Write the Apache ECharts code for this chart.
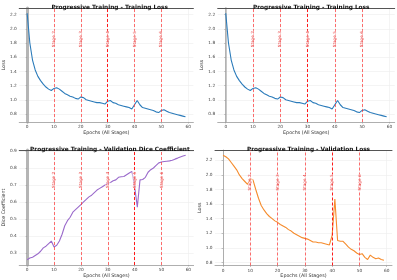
<!DOCTYPE html>
<html><head><meta charset="utf-8">
<script src="https://cdn.jsdelivr.net/npm/echarts@6/dist/echarts.min.js"></script>
<style>html,body{margin:0;padding:0;background:#fff}#c{width:397px;height:280px}</style>
</head><body><div id="c"></div>
<script>
// ---- data ----
const trainLoss = [2.22,1.80,1.56,1.42,1.33,1.27,1.22,1.18,1.15,1.13,
  1.16,1.17,1.15,1.12,1.09,1.07,1.05,1.04,1.02,1.01,
  1.04,1.03,1.00,0.99,0.98,0.97,0.96,0.96,0.95,0.94,
  0.98,0.99,0.96,0.95,0.93,0.92,0.91,0.90,0.89,0.87,
  0.93,0.99,0.93,0.89,0.88,0.87,0.86,0.85,0.83,0.82,
  0.85,0.86,0.84,0.82,0.81,0.80,0.79,0.78,0.77,0.76];
const valDice = [0.26,0.27,0.275,0.285,0.295,0.31,0.33,0.34,0.355,0.37,
  0.335,0.345,0.37,0.41,0.46,0.49,0.51,0.54,0.555,0.57,
  0.585,0.60,0.615,0.63,0.64,0.655,0.67,0.68,0.69,0.70,
  0.71,0.715,0.725,0.73,0.745,0.748,0.75,0.76,0.77,0.78,
  0.69,0.57,0.73,0.732,0.745,0.775,0.79,0.80,0.815,0.83,
  0.835,0.838,0.84,0.842,0.845,0.852,0.858,0.865,0.87,0.875];
const valLoss = [2.27,2.25,2.22,2.17,2.12,2.07,2.00,1.95,1.91,1.87,
  1.95,1.93,1.80,1.68,1.58,1.52,1.47,1.43,1.40,1.37,
  1.35,1.32,1.30,1.28,1.25,1.23,1.20,1.18,1.16,1.14,
  1.13,1.12,1.10,1.08,1.08,1.07,1.07,1.06,1.05,1.04,
  1.17,1.67,1.10,1.09,1.09,1.05,1.01,0.98,0.96,0.93,
  0.91,0.92,0.87,0.84,0.90,0.87,0.85,0.86,0.84,0.83];
const stageEpochs = [10,20,30,40,50];
const stageLabels = ['Stage 2','Stage 3','Stage 4','Stage 5','Stage 6'];
const xTicks = [0,10,20,30,40,50,60];
const lossTicks = [0.8,1.0,1.2,1.4,1.6,1.8,2.0,2.2];
const diceTicks = [0.3,0.4,0.5,0.6,0.7,0.8,0.9];
const titles = ['Progressive Training - Training Loss','Progressive Training - Training Loss',
  'Progressive Training - Validation Dice Coefficient','Progressive Training - Validation Loss'];
const xName = 'Epochs (All Stages)';
const yNames = ['Loss','Loss','Dice Coefficient','Loss'];

// ---- layout ----
const panels = [
  {data: trainLoss, ticks: lossTicks, color:'#2b7bba', left:16,    top:8,   w:177.4, h:114,  yGap:10.5, darkIdx:2, right:3},
  {data: trainLoss, ticks: lossTicks, color:'#2b7bba', left:217.7, top:8,   w:177,   h:114,  yGap:13,   darkIdx:2, right:1.5},
  {data: valDice,   ticks: diceTicks, color:'#9a6acb', left:16.2,  top:150, w:177.4, h:115,  yGap:10.5, darkIdx:3, right:3},
  {data: valLoss,   ticks: lossTicks, color:'#f58b2c', left:215,   top:150, w:177,   h:115.5,yGap:12,   darkIdx:3, right:0}
];
const FONT = 'DejaVu Sans';
const opt = {animation:false, backgroundColor:'#fff', textStyle:{fontFamily:FONT},
  title:[], grid:[], xAxis:[], yAxis:[], series:[]};
const fmt = v => v.toFixed(1);

panels.forEach((p,i)=>{
  const n = p.data.length;
  const dmin = Math.min(...p.data), dmax = Math.max(...p.data), r = dmax-dmin;
  const xr = n-1;
  opt.grid.push({left:p.left, top:p.top, width:p.w, height:p.h, containLabel:false});
  opt.title.push({text:titles[i], left:p.left+p.w/2, top:p.top-8.3, textAlign:'center',
    textStyle:{fontFamily:FONT, fontSize:5.8, fontWeight:'bold', color:'#111'}});
  const xBase = {gridIndex:i, type:'value', min:-0.05*xr, max:xr*1.05};
  const yBase = {gridIndex:i, type:'value', min:dmin-0.05*r, max:dmax+0.05*r};
  opt.xAxis.push(Object.assign({}, xBase, {position:'bottom',
    name:xName, nameLocation:'middle', nameGap:7,
    nameTextStyle:{fontFamily:FONT, fontSize:4.8, color:'#333'},
    axisLine:{show:true, lineStyle:{color:'#9a9a9a', width:0.8}},
    axisTick:{show:true, length:1.5, customValues:xTicks, lineStyle:{color:'#9a9a9a', width:0.6}},
    axisLabel:{customValues:xTicks, fontSize:4.3, color:'#444', margin:3, fontFamily:FONT},
    splitLine:{show:true, lineStyle:{color:'#ececec', width:0.6}}}));
  opt.yAxis.push(Object.assign({}, yBase, {position:'left',
    name:yNames[i], nameLocation:'middle', nameGap:p.yGap,
    nameTextStyle:{fontFamily:FONT, fontSize:4.8, color:'#333'},
    axisLine:{show:true, lineStyle:{color:'#9a9a9a', width:0.8}},
    axisTick:{show:true, length:1.5, customValues:p.ticks, lineStyle:{color:'#9a9a9a', width:0.6}},
    axisLabel:{customValues:p.ticks, formatter:fmt, fontSize:4.3, color:'#444', margin:2.5, fontFamily:FONT},
    splitLine:{show:true, lineStyle:{color:'#ececec', width:0.6}}}));
  // top & right frame
  opt.xAxis.push(Object.assign({}, xBase, {position:'top', axisLine:{show:true, lineStyle:{color:'#555', width:1}},
    axisTick:{show:false}, axisLabel:{show:false}, splitLine:{show:false}}));
  opt.yAxis.push(Object.assign({}, yBase, {position:'right', axisLine:{show:p.right>0, lineStyle:{color:'#b5b5b5', width:p.right||1}},
    axisTick:{show:false}, axisLabel:{show:false}, splitLine:{show:false}}));
  const xi = i*2, yi = i*2;
  const labelY = dmax*0.85;
  opt.series.push({type:'line', xAxisIndex:xi, yAxisIndex:yi, data:p.data.map((v,k)=>[k,v]),
    showSymbol:false, symbol:'none', lineStyle:{color:p.color, width:1.1}, z:3,
    markLine:{silent:true, symbol:['none','none'], label:{show:false},
      data: stageEpochs.map((e,k)=>({xAxis:e, lineStyle:{color:k===p.darkIdx?'#ff1a1a':'rgba(255,50,50,0.7)', type:[3,2], width:1}}))},
    markPoint:{silent:true, symbol:'rect', symbolSize:0.01, itemStyle:{color:'rgba(0,0,0,0)'},
      data: stageEpochs.map((e,k)=>({coord:[e,labelY], label:{show:true, formatter:stageLabels[k], rotate:90,
        position:'inside', offset:[-2.4,0], fontSize:4.2, color:'#e83030', fontFamily:FONT,
        backgroundColor:'rgba(255,255,255,0.55)', padding:[0.5,0.5]}}))}
  });
});
const chart = echarts.init(document.getElementById('c'), null, {renderer:'canvas'});
chart.setOption(opt);
</script></body></html>
